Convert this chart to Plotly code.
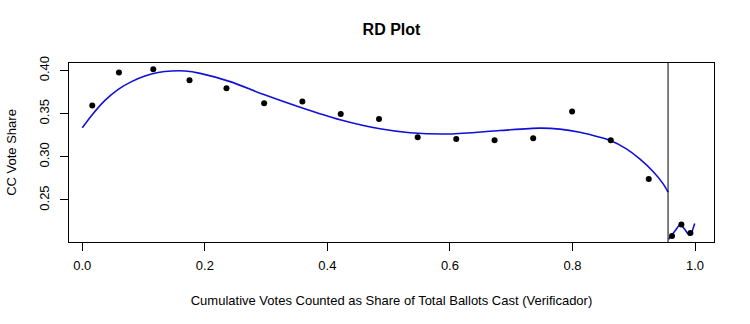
import plotly.graph_objects as go

# Binned means (points)
bin_x = [0.0163, 0.0598, 0.1158, 0.1750, 0.2353, 0.2968, 0.3592, 0.4218, 0.4843,
         0.5474, 0.6103, 0.6729, 0.7359, 0.7994, 0.8625, 0.9245,
         0.9625, 0.9778, 0.9925]
bin_y = [0.3594, 0.3977, 0.4015, 0.3888, 0.3795, 0.3621, 0.3641, 0.3497, 0.3439,
         0.3227, 0.3207, 0.3192, 0.3215, 0.3525, 0.3192, 0.2743,
         0.2083, 0.2215, 0.2118]

# Fitted polynomial, left of cutoff
fit_left_x = [0.0000, 0.0152, 0.0370, 0.0587, 0.0804, 0.1022, 0.1239, 0.1456, 0.1675,
              0.1924, 0.2413, 0.2951, 0.3555, 0.4207, 0.4859, 0.5348, 0.6000, 0.6815,
              0.7467, 0.7794, 0.8120, 0.8446, 0.8609, 0.8881, 0.9098, 0.9315, 0.9478,
              0.9560]
fit_left_y = [0.3337, 0.3480, 0.3655, 0.3783, 0.3872, 0.3937, 0.3977, 0.3995, 0.3995,
              0.3968, 0.3872, 0.3725, 0.3575, 0.3430, 0.3325, 0.3280, 0.3265, 0.3305,
              0.3333, 0.3322, 0.3285, 0.3228, 0.3192, 0.3093, 0.2976, 0.2830, 0.2690,
              0.2592]

# Fitted polynomial, right of cutoff
fit_right_x = [0.9571, 0.9669, 0.9762, 0.9832, 0.9914, 0.9995]
fit_right_y = [0.2045, 0.2137, 0.2215, 0.2160, 0.2091, 0.2227]

cutoff = 0.956

x_ticks = [0.0, 0.2, 0.4, 0.6, 0.8, 1.0]
y_ticks = [0.25, 0.30, 0.35, 0.40]

FONT = "Liberation Sans, Arial, sans-serif"
LINE_BLUE = "#1010d8"

fig = go.Figure()
fig.add_trace(go.Scatter(x=fit_left_x, y=fit_left_y, mode="lines",
                         line=dict(color=LINE_BLUE, width=1.6, shape="spline", smoothing=0.8),
                         hoverinfo="skip", showlegend=False))
fig.add_trace(go.Scatter(x=fit_right_x, y=fit_right_y, mode="lines",
                         line=dict(color=LINE_BLUE, width=1.6, shape="spline", smoothing=0.8),
                         hoverinfo="skip", showlegend=False))
fig.add_trace(go.Scatter(x=bin_x, y=bin_y, mode="markers",
                         marker=dict(color="black", size=6),
                         showlegend=False))

fig.add_shape(type="line", xref="x", yref="paper", x0=cutoff, x1=cutoff, y0=0, y1=1,
              line=dict(color="black", width=1))

fig.update_layout(
    width=750, height=324,
    margin=dict(l=69, r=36, t=63, b=82),
    paper_bgcolor="white", plot_bgcolor="white",
    font=dict(family=FONT, size=13, color="black"),
    title=dict(text="<b>RD Plot</b>", x=0.522, xanchor="center", y=0.91, yanchor="middle",
               font=dict(family=FONT, size=16, color="black")),
)
fig.update_xaxes(
    range=[-0.0217, 1.031], tickvals=x_ticks, tickformat=".1f",
    showgrid=False, zeroline=False,
    showline=True, mirror=True, linecolor="black", linewidth=1,
    ticks="outside", ticklen=8, tickcolor="black", ticklabelstandoff=3,
    title=dict(text="Cumulative Votes Counted as Share of Total Ballots Cast (Verificador)",
               standoff=24, font=dict(size=13)),
)
fig.update_yaxes(
    range=[0.2013, 0.4088], tickvals=y_ticks, tickformat=".2f", tickangle=-90,
    showgrid=False, zeroline=False,
    showline=True, mirror=True, linecolor="black", linewidth=1,
    ticks="outside", ticklen=8, tickcolor="black", ticklabelstandoff=6,
    title=dict(text="CC Vote Share", standoff=17, font=dict(size=13)),
)

fig.write_html("out.html")
